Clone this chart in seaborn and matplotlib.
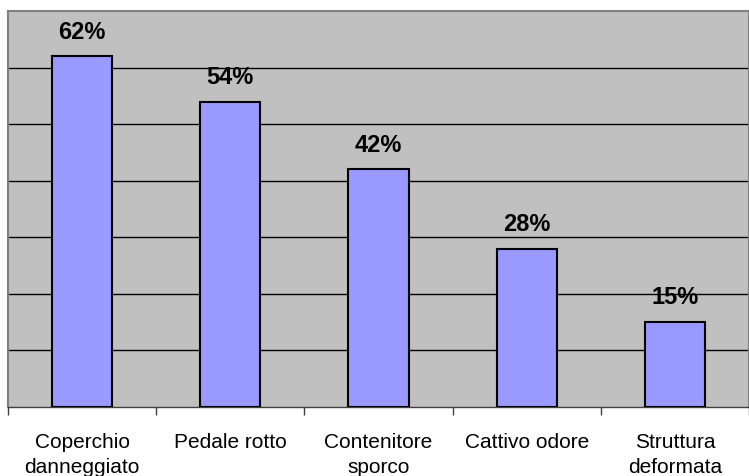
import matplotlib
matplotlib.use("Agg")
import matplotlib.pyplot as plt
import seaborn as sns
import pandas as pd

categories = ["Coperchio\ndanneggiato", "Pedale rotto", "Contenitore\nsporco", "Cattivo odore", "Struttura\ndeformata"]
values = [62, 54, 42, 28, 15]
labels = ["62%", "54%", "42%", "28%", "15%"]

sns.set_theme(style="white")
plt.rcParams['font.family'] = ['Liberation Sans', 'DejaVu Sans']
plt.rcParams['text.color'] = 'black'
plt.rcParams['xtick.color'] = 'black'

df = pd.DataFrame({"cat": categories, "val": values})

fig = plt.figure(figsize=(7.49, 4.77), dpi=100)
ax = fig.add_axes([8/749, 1-408/477, 1-8/749, (408-12)/477])
ax.set_facecolor("#C0C0C0")

sns.barplot(data=df, x="cat", y="val", color="#9999FF", saturation=1, width=0.405,
            edgecolor="black", linewidth=1.5, ax=ax, zorder=3)

ax.set_ylim(0, 70)
ax.set_xlim(-0.5, 4.5)
ax.set_yticks(range(10, 70, 10))
ax.yaxis.grid(True, color="black", linewidth=1)
ax.set_axisbelow(True)
ax.tick_params(axis="y", left=False, labelleft=False)
ax.set_xticks([i - 0.5 for i in range(6)], minor=True)
ax.tick_params(axis="x", which="minor", bottom=True, length=6, color="#404040", width=1)
ax.tick_params(axis="x", which="major", bottom=False, labelsize=15, pad=12, labelcolor="black")
ax.set_xlabel("")
ax.set_ylabel("")
for lbl in ax.get_xticklabels():
    lbl.set_linespacing(1.4)

for s in ["top", "left", "right"]:
    ax.spines[s].set_color("#808080")
    ax.spines[s].set_linewidth(1.5)
ax.spines["bottom"].set_color("#404040")
ax.spines["bottom"].set_linewidth(1)

for i, (v, t) in enumerate(zip(values, labels)):
    ax.annotate(t, (i, v), xytext=(0, 13.5), textcoords="offset points",
                ha="center", va="baseline", fontsize=17, fontweight="bold", color="black")

fig.savefig("out.png", dpi=100)
